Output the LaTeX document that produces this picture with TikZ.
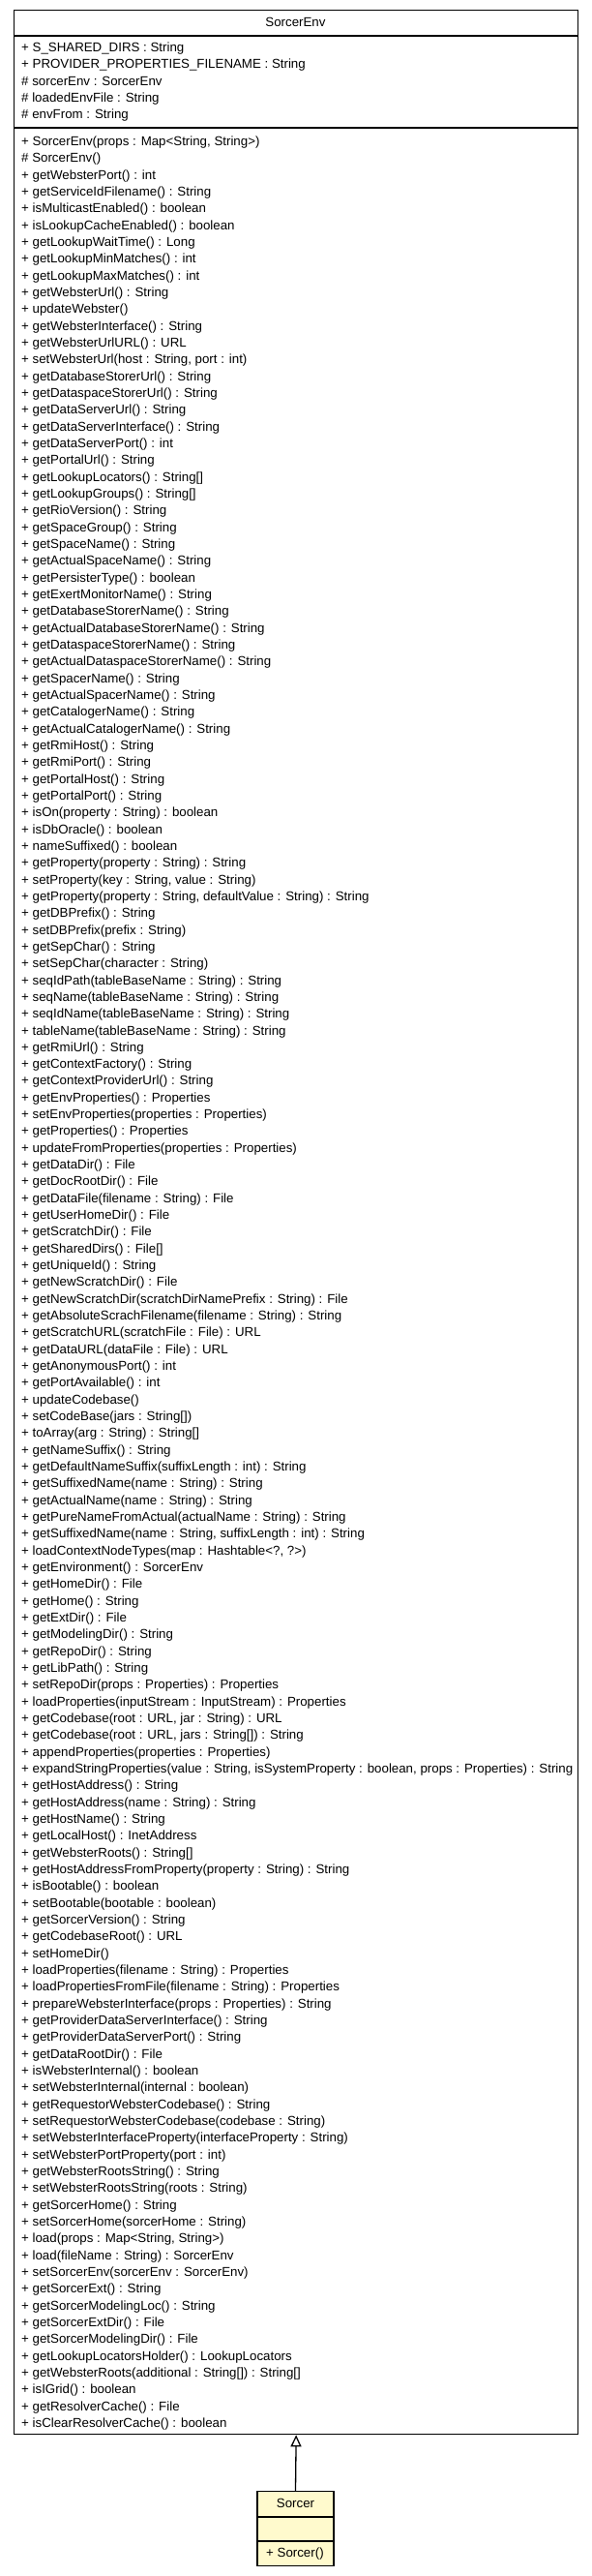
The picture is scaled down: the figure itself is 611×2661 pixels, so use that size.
\documentclass[tikz,border=0pt]{standalone}
\usepackage{fontspec}
\setmainfont{Liberation Sans}
\usetikzlibrary{arrows.meta}
\definecolor{classyellow}{RGB}{255,250,205}

\begin{document}
\begin{tikzpicture}[x=1pt,y=-1pt,
    classbox/.style={draw,line width=1.3pt,inner sep=0pt,anchor=north west},
    member/.style={inner sep=0pt,anchor=base west,font=\fontsize{13.3}{16}\selectfont},
    classname/.style={inner sep=0pt,anchor=base,font=\fontsize{13.3}{16}\selectfont},
    extends/.style={line width=1.3pt,-{Triangle[open,length=12pt,width=11pt]}}]
      \path[use as bounding box,fill=white] (0,0) rectangle (611,2661) ;
      % SorcerEnv
      \node[classbox,fill=white,minimum width=583pt,minimum height=2504pt] (env) at (14,10) {} ;
      \draw[line width=1.3pt] (14,37)--(597,37) ;
      \draw[line width=1.3pt] (14,132)--(597,132) ;
      \node[classname] (envname) at (305.5,27.5) {SorcerEnv} ;
      \foreach \txt [count=\i] in {
        {+ S\_SHARED\_DIRS : String},
        {+ PROVIDER\_PROPERTIES\_FILENAME : String},
        {\# sorcerEnv : SorcerEnv},
        {\# loadedEnvFile : String},
        {\# envFrom : String}}
        \node[member] (a\i) at (22,{53.5+17.33*(\i-1)}) {\txt} ;
      \foreach \txt [count=\i] in {
        {+ SorcerEnv(props : Map<String, String>)},
        {\# SorcerEnv()},
        {+ getWebsterPort() : int},
        {+ getServiceIdFilename() : String},
        {+ isMulticastEnabled() : boolean},
        {+ isLookupCacheEnabled() : boolean},
        {+ getLookupWaitTime() : Long},
        {+ getLookupMinMatches() : int},
        {+ getLookupMaxMatches() : int},
        {+ getWebsterUrl() : String},
        {+ updateWebster()},
        {+ getWebsterInterface() : String},
        {+ getWebsterUrlURL() : URL},
        {+ setWebsterUrl(host : String, port : int)},
        {+ getDatabaseStorerUrl() : String},
        {+ getDataspaceStorerUrl() : String},
        {+ getDataServerUrl() : String},
        {+ getDataServerInterface() : String},
        {+ getDataServerPort() : int},
        {+ getPortalUrl() : String},
        {+ getLookupLocators() : String[]},
        {+ getLookupGroups() : String[]},
        {+ getRioVersion() : String},
        {+ getSpaceGroup() : String},
        {+ getSpaceName() : String},
        {+ getActualSpaceName() : String},
        {+ getPersisterType() : boolean},
        {+ getExertMonitorName() : String},
        {+ getDatabaseStorerName() : String},
        {+ getActualDatabaseStorerName() : String},
        {+ getDataspaceStorerName() : String},
        {+ getActualDataspaceStorerName() : String},
        {+ getSpacerName() : String},
        {+ getActualSpacerName() : String},
        {+ getCatalogerName() : String},
        {+ getActualCatalogerName() : String},
        {+ getRmiHost() : String},
        {+ getRmiPort() : String},
        {+ getPortalHost() : String},
        {+ getPortalPort() : String},
        {+ isOn(property : String) : boolean},
        {+ isDbOracle() : boolean},
        {+ nameSuffixed() : boolean},
        {+ getProperty(property : String) : String},
        {+ setProperty(key : String, value : String)},
        {+ getProperty(property : String, defaultValue : String) : String},
        {+ getDBPrefix() : String},
        {+ setDBPrefix(prefix : String)},
        {+ getSepChar() : String},
        {+ setSepChar(character : String)},
        {+ seqIdPath(tableBaseName : String) : String},
        {+ seqName(tableBaseName : String) : String},
        {+ seqIdName(tableBaseName : String) : String},
        {+ tableName(tableBaseName : String) : String},
        {+ getRmiUrl() : String},
        {+ getContextFactory() : String},
        {+ getContextProviderUrl() : String},
        {+ getEnvProperties() : Properties},
        {+ setEnvProperties(properties : Properties)},
        {+ getProperties() : Properties},
        {+ updateFromProperties(properties : Properties)},
        {+ getDataDir() : File},
        {+ getDocRootDir() : File},
        {+ getDataFile(filename : String) : File},
        {+ getUserHomeDir() : File},
        {+ getScratchDir() : File},
        {+ getSharedDirs() : File[]},
        {+ getUniqueId() : String},
        {+ getNewScratchDir() : File},
        {+ getNewScratchDir(scratchDirNamePrefix : String) : File},
        {+ getAbsoluteScrachFilename(filename : String) : String},
        {+ getScratchURL(scratchFile : File) : URL},
        {+ getDataURL(dataFile : File) : URL},
        {+ getAnonymousPort() : int},
        {+ getPortAvailable() : int},
        {+ updateCodebase()},
        {+ setCodeBase(jars : String[])},
        {+ toArray(arg : String) : String[]},
        {+ getNameSuffix() : String},
        {+ getDefaultNameSuffix(suffixLength : int) : String},
        {+ getSuffixedName(name : String) : String},
        {+ getActualName(name : String) : String},
        {+ getPureNameFromActual(actualName : String) : String},
        {+ getSuffixedName(name : String, suffixLength : int) : String},
        {+ loadContextNodeTypes(map : Hashtable<?, ?>)},
        {+ getEnvironment() : SorcerEnv},
        {+ getHomeDir() : File},
        {+ getHome() : String},
        {+ getExtDir() : File},
        {+ getModelingDir() : String},
        {+ getRepoDir() : String},
        {+ getLibPath() : String},
        {+ setRepoDir(props : Properties) : Properties},
        {+ loadProperties(inputStream : InputStream) : Properties},
        {+ getCodebase(root : URL, jar : String) : URL},
        {+ getCodebase(root : URL, jars : String[]) : String},
        {+ appendProperties(properties : Properties)},
        {+ expandStringProperties(value : String, isSystemProperty : boolean, props : Properties) : String},
        {+ getHostAddress() : String},
        {+ getHostAddress(name : String) : String},
        {+ getHostName() : String},
        {+ getLocalHost() : InetAddress},
        {+ getWebsterRoots() : String[]},
        {+ getHostAddressFromProperty(property : String) : String},
        {+ isBootable() : boolean},
        {+ setBootable(bootable : boolean)},
        {+ getSorcerVersion() : String},
        {+ getCodebaseRoot() : URL},
        {+ setHomeDir()},
        {+ loadProperties(filename : String) : Properties},
        {+ loadPropertiesFromFile(filename : String) : Properties},
        {+ prepareWebsterInterface(props : Properties) : String},
        {+ getProviderDataServerInterface() : String},
        {+ getProviderDataServerPort() : String},
        {+ getDataRootDir() : File},
        {+ isWebsterInternal() : boolean},
        {+ setWebsterInternal(internal : boolean)},
        {+ getRequestorWebsterCodebase() : String},
        {+ setRequestorWebsterCodebase(codebase : String)},
        {+ setWebsterInterfaceProperty(interfaceProperty : String)},
        {+ setWebsterPortProperty(port : int)},
        {+ getWebsterRootsString() : String},
        {+ setWebsterRootsString(roots : String)},
        {+ getSorcerHome() : String},
        {+ setSorcerHome(sorcerHome : String)},
        {+ load(props : Map<String, String>)},
        {+ load(fileName : String) : SorcerEnv},
        {+ setSorcerEnv(sorcerEnv : SorcerEnv)},
        {+ getSorcerExt() : String},
        {+ getSorcerModelingLoc() : String},
        {+ getSorcerExtDir() : File},
        {+ getSorcerModelingDir() : File},
        {+ getLookupLocatorsHolder() : LookupLocators},
        {+ getWebsterRoots(additional : String[]) : String[]},
        {+ isIGrid() : boolean},
        {+ getResolverCache() : File},
        {+ isClearResolverCache() : boolean}}
        \node[member] (m\i) at (22,{150.5+17.33*(\i-1)}) {\txt} ;
      % Sorcer
      \node[classbox,fill=classyellow,anchor=north,minimum width=79pt,minimum height=77pt] (sorcer) at (305.5,2573) {} ;
      \draw[line width=1.3pt] (266,2600)--(345,2600) ;
      \draw[line width=1.3pt] (266,2625)--(345,2625) ;
      \node[classname] (sorcername) at (305.5,2590) {Sorcer} ;
      \node[member] (sorcerm1) at (275,2641.5) {+ Sorcer()} ;
      \draw[extends] (sorcer.north)--(env.south) ;
    \end{tikzpicture}
\end{document}
